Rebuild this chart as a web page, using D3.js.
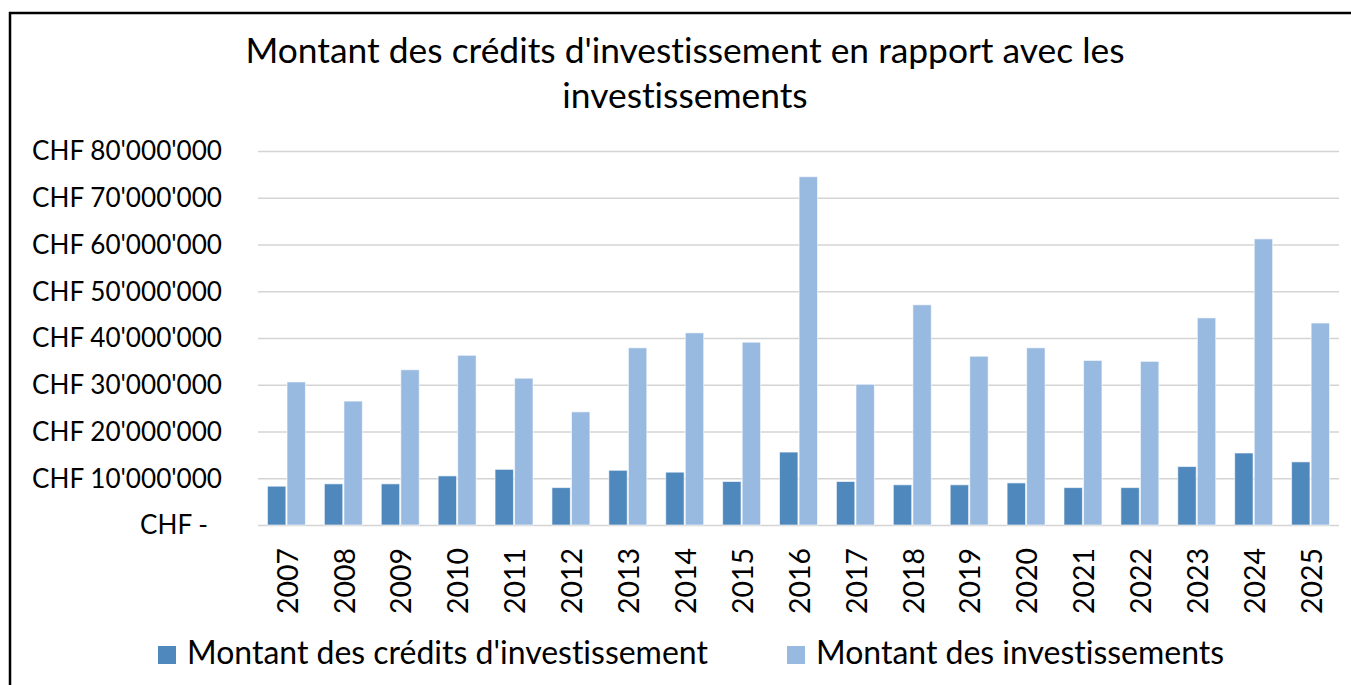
<!DOCTYPE html>
<html>
<head>
<meta charset="utf-8">
<script src="https://cdn.jsdelivr.net/npm/d3@7"></script>
<style>
  body { margin: 0; background: #fff; }
  svg { display: block; font-family: Lato, "Noto Sans", sans-serif; font-variant-ligatures: none; }
  .grid line { stroke: #d4d4d4; stroke-width: 1.5; }
  .grid .domain { display: none; }
</style>
</head>
<body>
<script>
'use strict';

// data
const years = ['2007', '2008', '2009', '2010', '2011', '2012', '2013', '2014', '2015', '2016',
  '2017', '2018', '2019', '2020', '2021', '2022', '2023', '2024', '2025'];
const credits = [8.3, 8.8, 8.8, 10.5, 11.9, 8.0, 11.7, 11.3, 9.3, 15.6,
  9.3, 8.6, 8.6, 9.0, 8.0, 8.0, 12.5, 15.4, 13.5].map((v) => v * 1e6);
const investissements = [30.6, 26.5, 33.2, 36.3, 31.4, 24.2, 37.9, 41.1, 39.1, 74.5,
  30.1, 47.1, 36.1, 37.9, 35.2, 35.0, 44.3, 61.2, 43.2].map((v) => v * 1e6);
const seriesNames = ["Montant des crédits d'investissement", 'Montant des investissements'];
const seriesColors = ['#4f88bc', '#98b9e0'];
const yTicks = [0, 10e6, 20e6, 30e6, 40e6, 50e6, 60e6, 70e6, 80e6];
const titleLines = ["Montant des crédits d'investissement en rapport avec les", 'investissements'];

const W = 1351;
const H = 685;
const plot = { left: 258, right: 1339, top: 151, bottom: 525 };

const rows = years.map((y, i) => ({ year: y, values: [credits[i], investissements[i]] }));

const $svg = d3.select('body').append('svg')
  .attr('width', W)
  .attr('height', H);

// outer frame (cut at right and bottom like the reference)
$svg.append('rect')
  .attr('x', 10).attr('y', 13)
  .attr('width', W + 20).attr('height', H + 20)
  .attr('fill', 'none')
  .attr('stroke', '#000')
  .attr('stroke-width', 2.5);

// scale font so a text gets a given width
const fit = ($t, width) => {
  $t.style('font-size', '100px');
  const len = $t.node().getComputedTextLength();
  const size = 100 * width / len;
  $t.style('font-size', size + 'px');
  return size;
};

const x = d3.scaleBand()
  .domain(years)
  .range([plot.left, plot.right])
  .paddingInner(0.333)
  .paddingOuter(0.1665);

const xs = d3.scaleBand()
  .domain([0, 1])
  .range([0, x.bandwidth()])
  .paddingInner(0.06);

const y = d3.scaleLinear()
  .domain([0, 80e6])
  .range([plot.bottom, plot.top]);

// gridlines
$svg.append('g')
  .attr('class', 'grid')
  .attr('transform', `translate(${plot.left},0)`)
  .call(d3.axisLeft(y).tickValues(yTicks).tickSize(-(plot.right - plot.left)).tickFormat(''));

// y labels
const fmt = (v) => v === 0 ? 'CHF -' : 'CHF ' + d3.format(',')(v).replace(/,/g, "'");
const $ylab = $svg.append('g').selectAll('text')
  .data(yTicks)
  .enter()
  .append('text')
  .attr('x', (d) => d === 0 ? 208 : 222)
  .attr('y', (d) => y(d))
  .attr('dy', '0.36em')
  .attr('text-anchor', 'end')
  .attr('fill', '#000')
  .text(fmt);
const ySize = fit($ylab.filter((d) => d === 80e6), 190);
$ylab.style('font-size', ySize + 'px');

// bars
const $groups = $svg.append('g').selectAll('g')
  .data(rows)
  .enter()
  .append('g')
  .attr('transform', (d) => `translate(${x(d.year)},0)`);

$groups.selectAll('rect')
  .data((d) => d.values)
  .enter()
  .append('rect')
  .attr('x', (d, i) => xs(i))
  .attr('y', (d) => y(d))
  .attr('width', xs.bandwidth())
  .attr('height', (d) => y(0) - y(d))
  .attr('fill', (d, i) => seriesColors[i])
  .attr('stroke', '#fff')
  .attr('stroke-opacity', 0.6)
  .attr('stroke-width', 1);

// x labels, rotated
const $xlab = $svg.append('g').selectAll('text')
  .data(years)
  .enter()
  .append('text')
  .attr('transform', (d) => `translate(${x(d) + x.bandwidth() / 2 + 1},548) rotate(-90)`)
  .attr('dy', '0.36em')
  .attr('text-anchor', 'end')
  .attr('fill', '#000')
  .text((d) => d);
const xSize = fit($xlab.filter((d, i) => i === 0), 66);
$xlab.style('font-size', xSize + 'px');

// title
const $title = $svg.append('g').selectAll('text')
  .data(titleLines)
  .enter()
  .append('text')
  .attr('x', 685)
  .attr('y', (d, i) => 63 + i * 45)
  .attr('text-anchor', 'middle')
  .attr('fill', '#000')
  .text((d) => d);
const tSize = fit($title.filter((d, i) => i === 0), 879);
$title.style('font-size', tSize + 'px');

// legend
const legendX = [158, 787];
const $leg = $svg.append('g').selectAll('g')
  .data(seriesNames)
  .enter()
  .append('g')
  .attr('transform', (d, i) => `translate(${legendX[i]},646)`);
$leg.append('rect')
  .attr('width', 18)
  .attr('height', 18)
  .attr('fill', (d, i) => seriesColors[i]);
const $legText = $leg.append('text')
  .attr('x', 29)
  .attr('y', 18)
  .attr('fill', '#000')
  .text((d) => d);
const lSize = fit($legText.filter((d, i) => i === 0), 521);
$legText.style('font-size', lSize + 'px');
</script>
</body>
</html>
